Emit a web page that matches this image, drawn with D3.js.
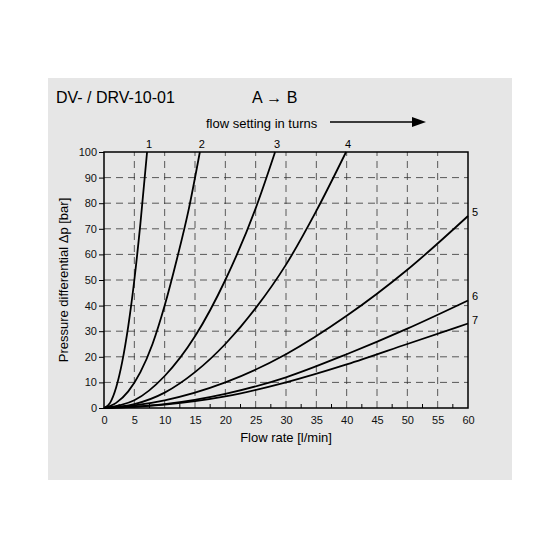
<!DOCTYPE html><html><head><script src="https://cdn.jsdelivr.net/npm/d3@7"></script>
<style>body{margin:0;background:#fff}</style></head><body><svg id="c" width="560" height="560"></svg>
<script>
const xTicks=[0,5,10,15,20,25,30,35,40,45,50,55,60];
const yTicks=[0,10,20,30,40,50,60,70,80,90,100];
const curveNames=["1","2","3","4","5","6","7"];
const c1=[[0,0],[1,2],[2,8],[3,18],[4,32],[5,50],[6,72],[7.1,100]];
const c2=[[0,0],[2,2],[4,6.5],[6,14],[8,25],[10,40],[12,58],[14,78],[15.8,100]];
const c3=[[0,0],[5,3],[10,12.5],[15,28],[20,50],[25,78],[28.2,100]];
const c4=[[0,0],[5,1.5],[10,6],[15,14],[20,25],[25,39],[30,56],[35,77],[39.9,100]];
const c5=[[0,0],[5,1],[10,3],[20,10],[30,21],[40,36],[50,54],[60,75]];
const c6=[[0,0],[5,0.5],[10,1.5],[20,5.5],[30,12],[40,21],[50,31],[60,42]];
const c7=[[0,0],[5,0.4],[10,1.3],[20,4.5],[30,10],[40,17],[50,25],[60,33]];
const curves=[c1,c2,c3,c4,c5,c6,c7];
const svg=d3.select("#c");
const F="Liberation Sans, Arial, sans-serif";
svg.append("rect").attr("x",48).attr("y",78).attr("width",464).attr("height",402).attr("fill","#e6e6e6");
const x=d3.scaleLinear().domain([0,60]).range([104,468]);
const y=d3.scaleLinear().domain([0,100]).range([408,152]);
const g=svg.append("g");
xTicks.slice(1,-1).forEach(t=>g.append("line").attr("x1",x(t)).attr("x2",x(t)).attr("y1",y(0)).attr("y2",y(100)).attr("stroke","#333").attr("stroke-width",0.8).attr("stroke-dasharray","7,5"));
yTicks.slice(1,-1).forEach(t=>g.append("line").attr("x1",x(0)).attr("x2",x(60)).attr("y1",y(t)).attr("y2",y(t)).attr("stroke","#333").attr("stroke-width",0.8).attr("stroke-dasharray","7,5"));
g.append("rect").attr("x",x(0)).attr("y",y(100)).attr("width",x(60)-x(0)).attr("height",y(0)-y(100)).attr("fill","none").attr("stroke","#000").attr("stroke-width",1.5);
const xa=svg.append("g").attr("transform",`translate(0,${y(0)})`).call(d3.axisBottom(x).tickValues(xTicks).tickSize(0).tickPadding(8));
const ya=svg.append("g").attr("transform",`translate(${x(0)},0)`).call(d3.axisLeft(y).tickValues(yTicks).tickSize(5).tickPadding(2));
[xa,ya].forEach(a=>{a.select(".domain").remove();a.selectAll("text").attr("font-family",F).attr("font-size",11).attr("fill","#111");});
// minor x ticks
d3.range(2.5,60,5).forEach(t=>svg.append("line").attr("x1",x(t)).attr("x2",x(t)).attr("y1",y(0)).attr("y2",y(0)-4).attr("stroke","#000"));
const line=d3.line().x(d=>x(d[0])).y(d=>y(d[1])).curve(d3.curveMonotoneX);
curves.forEach((c,i)=>{
 svg.append("path").attr("d",line(c)).attr("fill","none").attr("stroke","#000").attr("stroke-width",1.8);
 const e=c[c.length-1];
 if(i<4) svg.append("text").attr("x",x(e[0])+2).attr("y",y(100)-4).text(curveNames[i]).attr("font-family",F).attr("font-size",11).attr("text-anchor","middle");
 else svg.append("text").attr("x",x(60)+4).attr("y",y(e[1])).text(curveNames[i]).attr("font-family",F).attr("font-size",11);
});
svg.append("text").attr("x",56).attr("y",103).text("DV- / DRV-10-01").attr("font-family",F).attr("font-size",16);
svg.append("text").attr("x",252).attr("y",103).text("A → B").attr("font-family",F).attr("font-size",16);
svg.append("text").attr("x",206).attr("y",128).text("flow setting in turns").attr("font-family",F).attr("font-size",13);
svg.append("line").attr("x1",330).attr("x2",414).attr("y1",122).attr("y2",122).attr("stroke","#000").attr("stroke-width",1.5);
svg.append("path").attr("d","M412,117 L426,122 L412,127 Z").attr("fill","#000");
svg.append("text").attr("x",286).attr("y",442).text("Flow rate [l/min]").attr("font-family",F).attr("font-size",13).attr("text-anchor","middle");
svg.append("text").attr("transform",`translate(68,280) rotate(-90)`).text("Pressure differential Δp [bar]").attr("font-family",F).attr("font-size",13).attr("text-anchor","middle");
</script></body></html>
